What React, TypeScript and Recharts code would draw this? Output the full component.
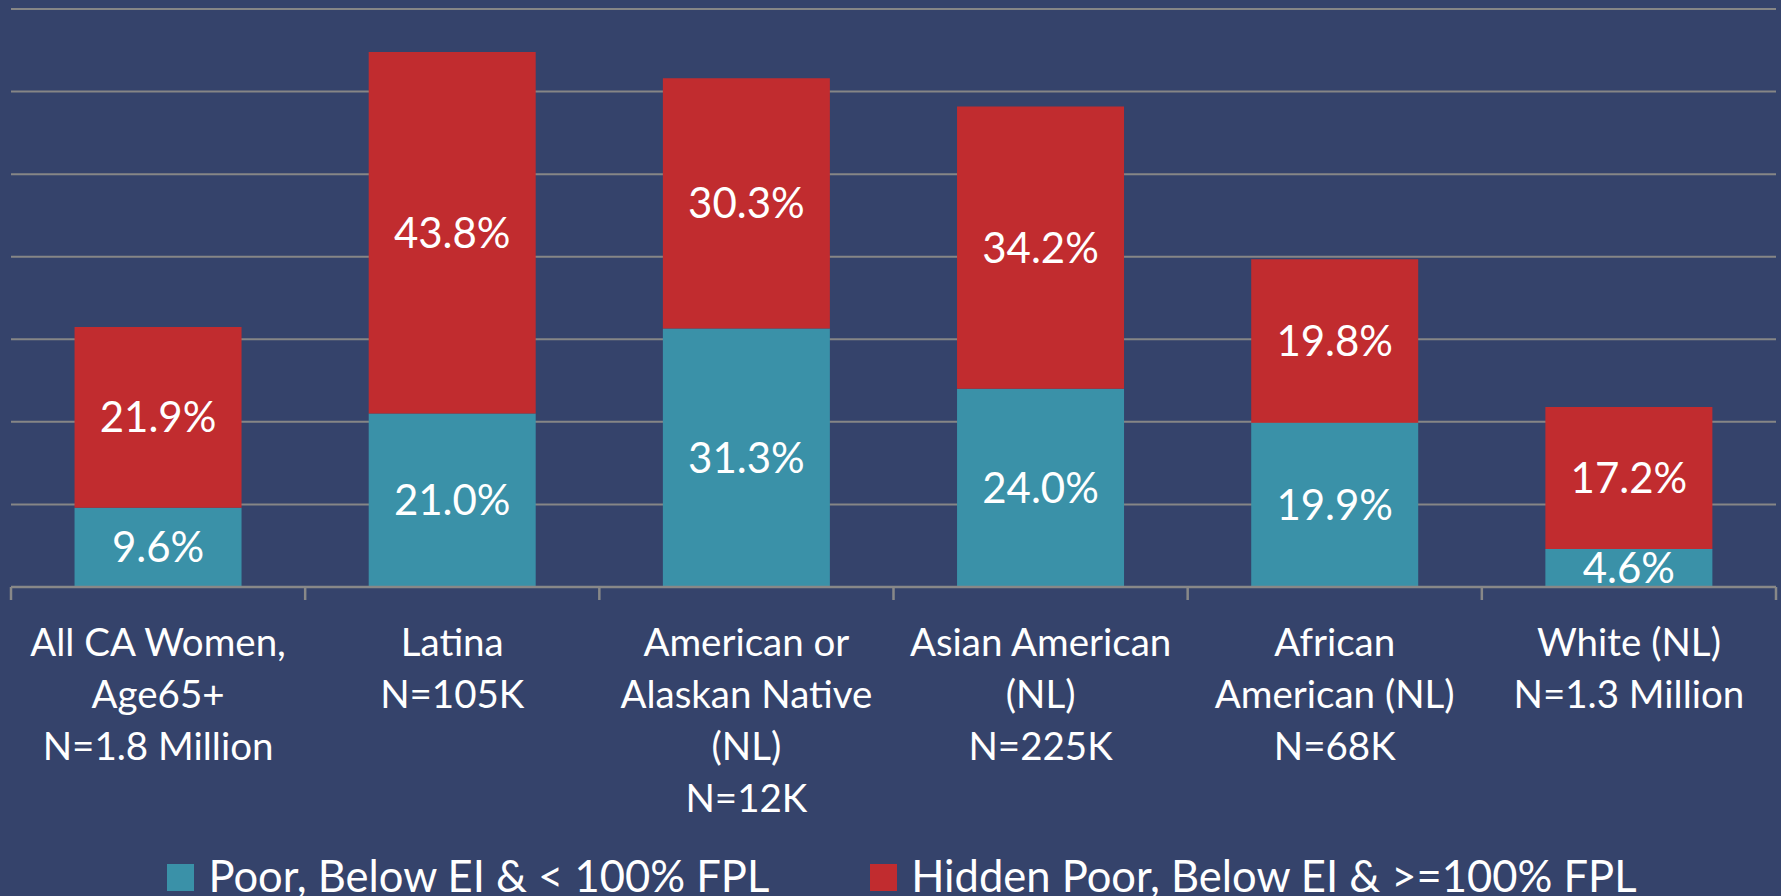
import React from 'react';
import { BarChart, Bar, XAxis, YAxis, CartesianGrid, LabelList, Legend } from 'recharts';

const categories = [
  'All CA Women, Age65+ N=1.8 Million',
  'Latina N=105K',
  'American or Alaskan Native (NL) N=12K',
  'Asian American (NL) N=225K',
  'African American (NL) N=68K',
  'White (NL) N=1.3 Million',
];
const categoryLines = [
  ['All CA Women,', 'Age65+', 'N=1.8 Million'],
  ['Latina', 'N=105K'],
  ['American or', 'Alaskan Native', '(NL)', 'N=12K'],
  ['Asian American', '(NL)', 'N=225K'],
  ['African', 'American (NL)', 'N=68K'],
  ['White (NL)', 'N=1.3 Million'],
];
const poorValues = [9.6, 21.0, 31.3, 24.0, 19.9, 4.6];
const hiddenPoorValues = [21.9, 43.8, 30.3, 34.2, 19.8, 17.2];
const yTicks = [0, 10, 20, 30, 40, 50, 60, 70];
const seriesNames = ['Poor, Below EI & < 100% FPL', 'Hidden Poor, Below EI & >=100% FPL'];

const data = categories.map((c, i) => ({
  category: c,
  poor: poorValues[i],
  hidden: hiddenPoorValues[i],
}));

const W = 1781;
const H = 896;
const MARGIN = { top: 9, right: 5, bottom: 0, left: 11 };
const BG = '#35436B';
const TEAL = '#3A91A8';
const RED = '#C12C2F';
const GRID = '#868686';
const AXIS = '#888888';
const FONT = 'Lato, "Open Sans", sans-serif';
const seriesColors = [TEAL, RED];

const CategoryTick = (props: any) => {
  const { x, y, index } = props;
  const plotW = typeof props.width === 'number' ? props.width : W - MARGIN.left - MARGIN.right;
  const band = plotW / categories.length;
  const lines = categoryLines[index] || [];
  return (
    <g>
      <line x1={x - band / 2} x2={x - band / 2} y1={y} y2={y + 13} stroke={AXIS} strokeWidth={2.5} />
      {index === categories.length - 1 && (
        <line x1={x + band / 2} x2={x + band / 2} y1={y} y2={y + 13} stroke={AXIS} strokeWidth={2.5} />
      )}
      <text x={x} y={y} textAnchor="middle" fill="#FFFFFF" fontFamily={FONT} fontSize={38.5}>
        {lines.map((l, i) => (
          <tspan key={i} x={x} y={y + 69 + i * 52}>
            {l}
          </tspan>
        ))}
      </text>
    </g>
  );
};

const LegendContent = (props: any) => {
  const payload: any[] = props.payload || [];
  const items = seriesNames.map((n, i) => {
    const found = payload.find((p: any) => p.value === n);
    return { value: n, color: found && found.color ? found.color : seriesColors[i] };
  });
  return (
    <div
      style={{
        display: 'flex',
        justifyContent: 'center',
        alignItems: 'flex-start',
        fontFamily: FONT,
        fontSize: 43.5,
        lineHeight: '44px',
        color: '#FFFFFF',
        whiteSpace: 'nowrap',
      }}
    >
      {items.map((p, i) => (
        <div key={i} style={{ display: 'flex', alignItems: 'flex-start', marginLeft: i === 0 ? 0 : 101 }}>
          <span style={{ display: 'inline-block', width: 27, height: 27, marginTop: 11, marginRight: 14, background: p.color }} />
          <span>{p.value}</span>
        </div>
      ))}
    </div>
  );
};

const fmt = (v: any) => `${Number(v).toFixed(1)}%`;

export default function App() {
  return (
    <div style={{ position: 'absolute', left: 0, top: 0, width: W, height: H, background: BG, overflow: 'hidden' }}>
      <BarChart
        width={W}
        height={H}
        data={data}
        margin={MARGIN}
        barCategoryGap="21.6%"
        style={{ fontFamily: FONT }}
      >
        <CartesianGrid vertical={false} stroke={GRID} strokeWidth={2} />
        <YAxis hide domain={[0, 70]} ticks={yTicks} type="number" />
        <XAxis
          dataKey="category"
          interval={0}
          height={H - 587}
          axisLine={{ stroke: AXIS, strokeWidth: 2.5 }}
          tickLine={false}
          tickSize={0}
          tickMargin={0}
          tick={<CategoryTick />}
        />
        <Legend
          verticalAlign="middle"
          align="center"
          layout="horizontal"
          wrapperStyle={{ top: 853, left: 23, width: 1758 }}
          content={<LegendContent />}
        />
        <Bar dataKey="poor" stackId="a" fill={TEAL} name={seriesNames[0]} isAnimationActive={false}>
          <LabelList dataKey="poor" position="center" formatter={fmt} fill="#FFFFFF" fontSize={42} fontFamily={FONT} />
        </Bar>
        <Bar dataKey="hidden" stackId="a" fill={RED} name={seriesNames[1]} isAnimationActive={false}>
          <LabelList dataKey="hidden" position="center" formatter={fmt} fill="#FFFFFF" fontSize={42} fontFamily={FONT} />
        </Bar>
      </BarChart>
    </div>
  );
}
